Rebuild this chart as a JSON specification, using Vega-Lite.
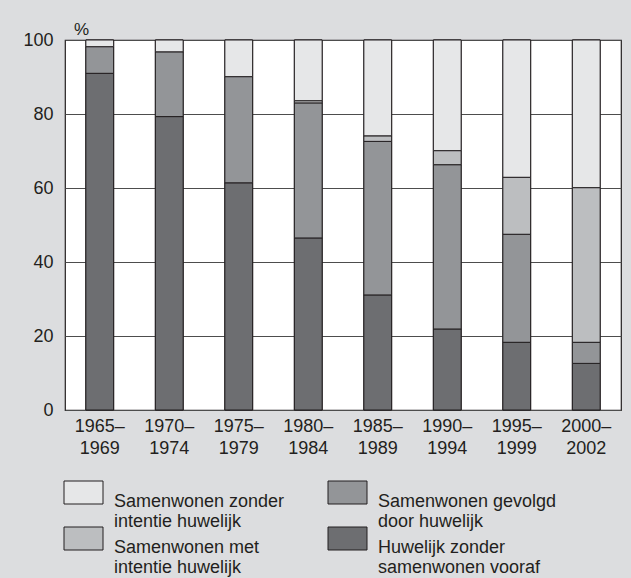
{
  "$schema": "https://vega.github.io/schema/vega-lite/v6.json",
  "autosize": {"type": "none"},
  "padding": {"left": 65, "top": 40, "right": 10, "bottom": 168},
  "width": 556,
  "height": 370,
  "background": "#dcdddf",
  "config": {
    "font": "Liberation Sans",
    "view": {"fill": "#ffffff", "stroke": "#231f20", "strokeWidth": 1.2},
    "legend": {
      "title": null,
      "orient": "none",
      "columns": 2,
      "direction": "horizontal",
      "padding": 0,
      "rowPadding": 0,
      "symbolType": "M-4.875,-2.875L4.875,-2.875L4.875,2.875L-4.875,2.875Z",
      "symbolSize": 64,
      "symbolStrokeColor": "#231f20",
      "symbolStrokeWidth": 1,
      "symbolOpacity": 1,
      "labelFont": "Liberation Sans",
      "labelFontSize": 18,
      "labelColor": "#231f20",
      "labelBaseline": "top",
      "labelLineHeight": 22,
      "labelOffset": 21.5,
      "labelLimit": 400
    }
  },
  "data": {
    "values": [
      {"period": "1965–1969", "cat": "Huwelijk zonder samenwonen vooraf", "o": 1, "pct": 91.0},
      {"period": "1965–1969", "cat": "Samenwonen gevolgd door huwelijk", "o": 2, "pct": 7.2},
      {"period": "1965–1969", "cat": "Samenwonen zonder intentie huwelijk", "o": 4, "pct": 1.8},
      {"period": "1970–1974", "cat": "Huwelijk zonder samenwonen vooraf", "o": 1, "pct": 79.3},
      {"period": "1970–1974", "cat": "Samenwonen gevolgd door huwelijk", "o": 2, "pct": 17.5},
      {"period": "1970–1974", "cat": "Samenwonen zonder intentie huwelijk", "o": 4, "pct": 3.2},
      {"period": "1975–1979", "cat": "Huwelijk zonder samenwonen vooraf", "o": 1, "pct": 61.4},
      {"period": "1975–1979", "cat": "Samenwonen gevolgd door huwelijk", "o": 2, "pct": 28.7},
      {"period": "1975–1979", "cat": "Samenwonen zonder intentie huwelijk", "o": 4, "pct": 9.9},
      {"period": "1980–1984", "cat": "Huwelijk zonder samenwonen vooraf", "o": 1, "pct": 46.5},
      {"period": "1980–1984", "cat": "Samenwonen gevolgd door huwelijk", "o": 2, "pct": 36.5},
      {"period": "1980–1984", "cat": "Samenwonen met intentie huwelijk", "o": 3, "pct": 0.6},
      {"period": "1980–1984", "cat": "Samenwonen zonder intentie huwelijk", "o": 4, "pct": 16.4},
      {"period": "1985–1989", "cat": "Huwelijk zonder samenwonen vooraf", "o": 1, "pct": 31.1},
      {"period": "1985–1989", "cat": "Samenwonen gevolgd door huwelijk", "o": 2, "pct": 41.5},
      {"period": "1985–1989", "cat": "Samenwonen met intentie huwelijk", "o": 3, "pct": 1.5},
      {"period": "1985–1989", "cat": "Samenwonen zonder intentie huwelijk", "o": 4, "pct": 25.9},
      {"period": "1990–1994", "cat": "Huwelijk zonder samenwonen vooraf", "o": 1, "pct": 21.9},
      {"period": "1990–1994", "cat": "Samenwonen gevolgd door huwelijk", "o": 2, "pct": 44.4},
      {"period": "1990–1994", "cat": "Samenwonen met intentie huwelijk", "o": 3, "pct": 3.8},
      {"period": "1990–1994", "cat": "Samenwonen zonder intentie huwelijk", "o": 4, "pct": 29.9},
      {"period": "1995–1999", "cat": "Huwelijk zonder samenwonen vooraf", "o": 1, "pct": 18.3},
      {"period": "1995–1999", "cat": "Samenwonen gevolgd door huwelijk", "o": 2, "pct": 29.2},
      {"period": "1995–1999", "cat": "Samenwonen met intentie huwelijk", "o": 3, "pct": 15.4},
      {"period": "1995–1999", "cat": "Samenwonen zonder intentie huwelijk", "o": 4, "pct": 37.1},
      {"period": "2000–2002", "cat": "Huwelijk zonder samenwonen vooraf", "o": 1, "pct": 12.6},
      {"period": "2000–2002", "cat": "Samenwonen gevolgd door huwelijk", "o": 2, "pct": 5.7},
      {"period": "2000–2002", "cat": "Samenwonen met intentie huwelijk", "o": 3, "pct": 41.8},
      {"period": "2000–2002", "cat": "Samenwonen zonder intentie huwelijk", "o": 4, "pct": 39.9}
    ]
  },
  "encoding": {
    "x": {
      "field": "period",
      "type": "nominal",
      "sort": null,
      "scale": {"paddingInner": 0.6, "paddingOuter": 0.3},
      "axis": {
        "title": null,
        "labelAngle": 0,
        "ticks": false,
        "domain": false,
        "labelFont": "Liberation Sans",
        "labelFontSize": 18,
        "labelColor": "#231f20",
        "labelBaseline": "top",
        "labelPadding": 7,
        "labelLineHeight": 22,
        "labelExpr": "[slice(datum.label, 0, 5), slice(datum.label, 5)]"
      }
    },
    "y": {
      "field": "pct",
      "type": "quantitative",
      "stack": "zero",
      "scale": {"domain": [0, 100], "nice": false},
      "axis": {
        "values": [0, 20, 40, 60, 80, 100],
        "title": "%",
        "titleFont": "Liberation Sans",
        "titleAngle": 0,
        "titleX": 16,
        "titleY": -11,
        "titleAlign": "center",
        "titleBaseline": "middle",
        "titleFontSize": 17,
        "titleFontWeight": "normal",
        "titleColor": "#231f20",
        "ticks": false,
        "domain": false,
        "labelFont": "Liberation Sans",
        "labelFontSize": 18,
        "labelColor": "#231f20",
        "labelPadding": 12,
        "grid": true,
        "gridColor": "#4d4d4d",
        "gridWidth": 1.2,
        "gridOpacity": 1
      }
    },
    "order": {"field": "o", "type": "quantitative"}
  },
  "layer": [
    {
      "mark": {"type": "bar", "stroke": "#231f20", "strokeWidth": 1},
      "encoding": {
        "color": {
          "field": "cat",
          "type": "nominal",
          "scale": {
            "domain": [
              "Samenwonen zonder intentie huwelijk",
              "Samenwonen gevolgd door huwelijk",
              "Samenwonen met intentie huwelijk",
              "Huwelijk zonder samenwonen vooraf"
            ],
            "range": ["#e6e7e8", "#939598", "#bcbec0", "#6d6e71"]
          },
          "legend": {
            "values": ["Samenwonen zonder intentie huwelijk", "Samenwonen gevolgd door huwelijk"],
            "legendX": 9.5,
            "legendY": 443.5,
            "columnPadding": 41,
            "labelExpr": "datum.label == 'Samenwonen zonder intentie huwelijk' ? ['Samenwonen zonder', 'intentie huwelijk'] : ['Samenwonen gevolgd', 'door huwelijk']"
          }
        }
      }
    },
    {
      "mark": {"type": "bar", "stroke": "#231f20", "strokeWidth": 1},
      "encoding": {
        "fill": {
          "field": "cat",
          "type": "nominal",
          "scale": {
            "domain": [
              "Samenwonen met intentie huwelijk",
              "Huwelijk zonder samenwonen vooraf",
              "Samenwonen zonder intentie huwelijk",
              "Samenwonen gevolgd door huwelijk"
            ],
            "range": ["#bcbec0", "#6d6e71", "#e6e7e8", "#939598"]
          },
          "legend": {
            "values": ["Samenwonen met intentie huwelijk", "Huwelijk zonder samenwonen vooraf"],
            "legendX": 9.5,
            "legendY": 489.5,
            "columnPadding": 66,
            "labelExpr": "datum.label == 'Samenwonen met intentie huwelijk' ? ['Samenwonen met', 'intentie huwelijk'] : ['Huwelijk zonder', 'samenwonen vooraf']"
          }
        }
      }
    }
  ]
}
